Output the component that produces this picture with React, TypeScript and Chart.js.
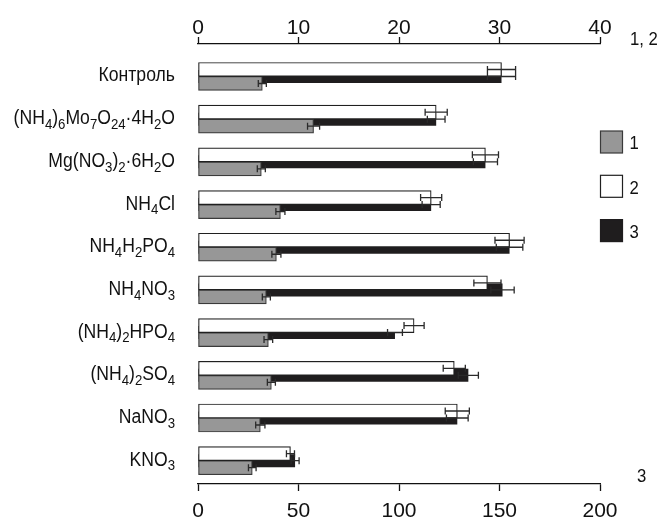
import React, { useEffect, useRef } from 'react';
import { Chart, registerables } from 'chart.js';

Chart.register(...registerables);

const categories = [
  'Контроль',
  '(NH₄)₆Mo₇O₂₄·4H₂O',
  'Mg(NO₃)₂·6H₂O',
  'NH₄Cl',
  'NH₄H₂PO₄',
  'NH₄NO₃',
  '(NH₄)₂HPO₄',
  '(NH₄)₂SO₄',
  'NaNO₃',
  'KNO₃',
];

// series 1 (grey) and 2 (white) use the top axis (0–40); series 3 (black) the bottom axis (0–200)
const series1 = [6.4, 11.5, 6.3, 8.2, 7.8, 6.8, 7.0, 7.3, 6.2, 5.4];
const series1Err = [0.4, 0.6, 0.4, 0.45, 0.45, 0.4, 0.43, 0.4, 0.46, 0.38];
const series2 = [30.2, 23.7, 28.6, 23.2, 31.0, 28.8, 21.5, 25.5, 25.8, 9.2];
const series2Err = [1.4, 1.1, 1.3, 1.05, 1.45, 1.35, 1.0, 1.1, 1.2, 0.4];
const series3 = [151, 118.5, 143, 116, 155, 151.5, 98, 134.5, 129, 48.3];
const series3Err = [7, 4.4, 6, 4.5, 6.6, 5.8, 3.7, 5, 5.4, 2];

const topTicks = [0, 10, 20, 30, 40];
const bottomTicks = [0, 50, 100, 150, 200];
const legendLabels = ['1', '2', '3'];
const topAxisTitle = '1, 2';
const bottomAxisTitle = '3';

const FONT = "'Liberation Sans', Arial, sans-serif";
const TEXT = '#111111';
const GREY = '#979797';
const GREY_BORDER = '#3a3a3a';
const WHITE = '#ffffff';
const WHITE_BORDER = '#202020';
const BLACK = '#1f1d1e';
const SX = 0.88; // condensed look of the original typeface

const SUBS = '₀₁₂₃₄₅₆₇₈₉';

const errorSets = [series2Err, series1Err, series3Err];

function splitRuns(s: string) {
  const runs: { text: string; sub: boolean }[] = [];
  for (const ch of s) {
    const idx = SUBS.indexOf(ch);
    const sub = idx >= 0;
    const c = sub ? String(idx) : ch;
    const last = runs[runs.length - 1];
    if (last && last.sub === sub) last.text += c;
    else runs.push({ text: c, sub });
  }
  return runs;
}

function drawRich(ctx: CanvasRenderingContext2D, s: string, x: number, baseline: number, size: number, align: 'left' | 'right') {
  const subSize = Math.round(size * 0.74);
  const subDy = size * 0.24;
  const runs = splitRuns(s);
  ctx.textAlign = 'left';
  ctx.textBaseline = 'alphabetic';
  const widths = runs.map((r) => {
    ctx.font = `${r.sub ? subSize : size}px ${FONT}`;
    return ctx.measureText(r.text).width;
  });
  const total = widths.reduce((a, b) => a + b, 0) * SX;
  const start = align === 'right' ? x - total : x;
  ctx.save();
  ctx.translate(start, baseline);
  ctx.scale(SX, 1);
  let cx = 0;
  runs.forEach((r, i) => {
    ctx.font = `${r.sub ? subSize : size}px ${FONT}`;
    ctx.fillText(r.text, cx, r.sub ? subDy : 0);
    cx += widths[i];
  });
  ctx.restore();
}

const errorBarPlugin = {
  id: 'errorBars',
  afterDatasetsDraw(chart: any) {
    const ctx = chart.ctx;
    chart.data.datasets.forEach((ds: any, di: number) => {
      const meta = chart.getDatasetMeta(di);
      const xScale = chart.scales[meta.xAxisID];
      const errs = errorSets[di];
      meta.data.forEach((bar: any, i: number) => {
        const v = ds.data[i].x;
        const e = errs[i];
        const x1 = xScale.getPixelForValue(v - e);
        const x2 = xScale.getPixelForValue(v + e);
        const y = bar.y;
        const h = 3.5;
        ctx.save();
        ctx.strokeStyle = '#2a2a2a';
        ctx.lineWidth = 1.3;
        ctx.beginPath();
        ctx.moveTo(x1, y);
        ctx.lineTo(x2, y);
        ctx.moveTo(x1, y - h);
        ctx.lineTo(x1, y + h);
        ctx.moveTo(x2, y - h);
        ctx.lineTo(x2, y + h);
        ctx.stroke();
        ctx.restore();
      });
    });
  },
};

const textPlugin = {
  id: 'customTexts',
  afterDraw(chart: any) {
    const ctx = chart.ctx;
    const area = chart.chartArea;
    const yScale = chart.scales.y;
    ctx.save();
    ctx.fillStyle = TEXT;
    // category labels (with real subscripts)
    categories.forEach((c, i) => {
      const y = yScale.getPixelForValue(i);
      drawRich(ctx, c, area.left - 23, y + 5, 20, 'right');
    });
    // legend
    const styles = [
      { fill: GREY, stroke: GREY_BORDER },
      { fill: WHITE, stroke: WHITE_BORDER },
      { fill: BLACK, stroke: BLACK },
    ];
    const bx = area.right + 0.5;
    const size = 22;
    legendLabels.forEach((lab, i) => {
      const by = 131 + i * 44.3;
      ctx.fillStyle = styles[i].fill;
      ctx.fillRect(bx, by, size, size);
      ctx.strokeStyle = styles[i].stroke;
      ctx.lineWidth = 1.2;
      ctx.strokeRect(bx, by, size, size);
      ctx.fillStyle = TEXT;
      drawRich(ctx, lab, bx + 29, by + size / 2 + 7.3, 19, 'left');
    });
    ctx.fillStyle = TEXT;
    drawRich(ctx, topAxisTitle, area.right + 30, area.top + 1, 19, 'left');
    drawRich(ctx, bottomAxisTitle, area.right + 37, area.bottom - 2.5, 19, 'left');
    ctx.restore();
  },
};

export default function App() {
  const ref = useRef<HTMLCanvasElement | null>(null);

  useEffect(() => {
    if (!ref.current) return;
    Chart.defaults.font.family = FONT;
    Chart.defaults.color = TEXT;

    const axisCommon = {
      type: 'linear' as const,
      grid: {
        drawOnChartArea: false,
        drawTicks: true,
        tickLength: 7,
        tickColor: TEXT,
        tickWidth: 1.3,
      },
      border: { display: true, color: TEXT, width: 1.3 },
    };

    const chart = new Chart(ref.current, {
      type: 'bar',
      data: {
        datasets: [
          {
            label: '2',
            data: series2.map((v, i) => ({ x: v, y: i })),
            xAxisID: 'x2',
            backgroundColor: WHITE,
            borderColor: WHITE_BORDER,
            borderWidth: 1.2,
            borderSkipped: false,
            barThickness: 14,
          },
          {
            label: '1',
            data: series1.map((v, i) => ({ x: v, y: i })),
            xAxisID: 'x2',
            backgroundColor: GREY,
            borderColor: GREY_BORDER,
            borderWidth: 1.2,
            borderSkipped: false,
            barThickness: 14,
          },
          {
            label: '3',
            data: series3.map((v, i) => ({ x: v, y: i })),
            xAxisID: 'x',
            backgroundColor: BLACK,
            borderWidth: 0,
            grouped: false,
            maxBarThickness: 13,
          },
        ] as any,
      },
      options: {
        indexAxis: 'y',
        animation: false,
        responsive: true,
        maintainAspectRatio: false,
        layout: { padding: { left: 0, right: 59, top: 0, bottom: 0 } },
        plugins: {
          legend: { display: false },
          tooltip: { enabled: false },
        },
        scales: {
          x: {
            ...axisCommon,
            position: 'bottom',
            min: 0,
            max: 200,
            afterBuildTicks: (s: any) => {
              s.ticks = bottomTicks.map((v) => ({ value: v }));
            },
            ticks: { font: { size: 21 }, color: TEXT, padding: 8, autoSkip: false, maxRotation: 0 },
            afterFit: (s: any) => {
              s.height = 41;
            },
          },
          x2: {
            ...axisCommon,
            position: 'top',
            min: 0,
            max: 40,
            afterBuildTicks: (s: any) => {
              s.ticks = topTicks.map((v) => ({ value: v }));
            },
            ticks: { font: { size: 21 }, color: TEXT, padding: -4, autoSkip: false, maxRotation: 0 },
            afterFit: (s: any) => {
              s.height = 44;
            },
          },
          y: {
            type: 'linear',
            reverse: true,
            offset: false,
            min: -0.761,
            max: 9.546,
            afterBuildTicks: (s: any) => {
              s.ticks = categories.map((_, i) => ({ value: i }));
            },
            ticks: { display: false },
            grid: { display: false, drawTicks: false },
            border: { display: false },
            afterFit: (s: any) => {
              s.width = 198;
            },
          },
        } as any,
      },
      plugins: [errorBarPlugin, textPlugin],
    });

    return () => chart.destroy();
  }, []);

  return (
    <div style={{ position: 'absolute', left: 0, top: 0, width: 659, height: 525, background: '#fff' }}>
      <canvas ref={ref} />
    </div>
  );
}
